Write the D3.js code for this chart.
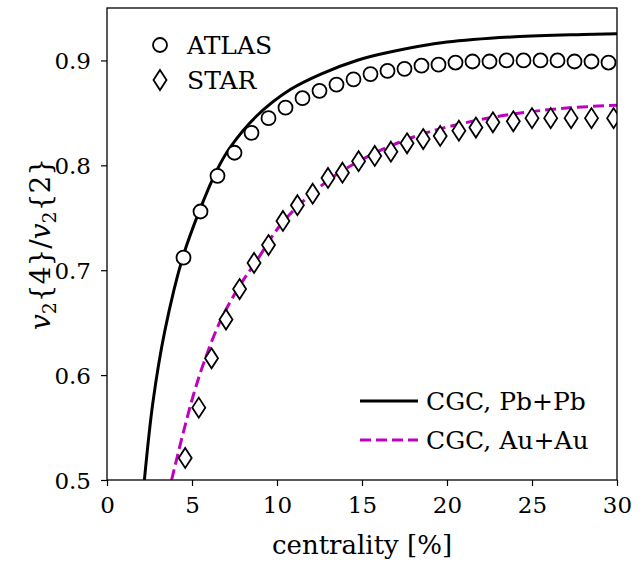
<!DOCTYPE html>
<html><head><meta charset="utf-8">
<script src="https://cdn.jsdelivr.net/npm/d3@7"></script>
<style>body{margin:0;background:#fff}svg{display:block}svg text{font-family:'DejaVu Serif',serif !important;fill:#000}</style>
</head><body>
<svg id="c" width="644" height="562"></svg>
<script>
const xTicks = [0,5,10,15,20,25,30];
const yTicks = [0.5,0.6,0.7,0.8,0.9];
const atlasX = [4.5,5.5,6.5,7.5,8.5,9.5,10.5,11.5,12.5,13.5,14.5,15.5,16.5,17.5,18.5,19.5,20.5,21.5,22.5,23.5,24.5,25.5,26.5,27.5,28.5,29.5];
const atlasY = [0.712,0.756,0.790,0.812,0.831,0.845,0.855,0.864,0.871,0.877,0.882,0.887,0.890,0.892,0.895,0.896,0.898,0.899,0.899,0.900,0.900,0.900,0.900,0.899,0.899,0.898];
const starX = [4.6,5.4,6.15,7.0,7.8,8.65,9.5,10.35,11.2,12.1,13.0,13.85,14.8,15.75,16.7,17.65,18.6,19.6,20.7,21.7,22.7,23.9,25.0,26.1,27.3,28.5,29.8];
const starY = [0.521,0.569,0.616,0.653,0.682,0.707,0.724,0.747,0.762,0.773,0.788,0.793,0.804,0.809,0.813,0.821,0.825,0.828,0.833,0.836,0.841,0.842,0.845,0.845,0.845,0.845,0.845];
const pbX = [2.2,2.7,3.4,4.45,5.47,6.45,7.24,8.8,10.76,12.73,14.69,16.65,20,24,28,30];
const pbY = [0.5,0.574,0.642,0.712,0.758,0.795,0.817,0.847,0.872,0.888,0.900,0.908,0.9175,0.9226,0.9248,0.9255];
const auX = [3.8,4.5,5.1,5.7,6.65,7.8,8.8,10.1,11.35,13.3,15.3,17.2,19.4,23.3,27.2,30];
const auY = [0.5,0.546,0.582,0.612,0.651,0.685,0.709,0.741,0.763,0.789,0.808,0.822,0.834,0.8475,0.8548,0.8573];

const L=107,R=617,T=8,B=480;
const svg=d3.select("#c");
const x=d3.scaleLinear().domain([0,30]).range([L,R]);
const y=d3.scaleLinear().domain([0.5,0.95]).range([B,T]);

svg.append("clipPath").attr("id","clip").append("rect").attr("x",L).attr("y",T).attr("width",R-L).attr("height",B-T);
const g=svg.append("g").attr("clip-path","url(#clip)");

const line=(xs,ys)=>d3.line().x(i=>x(xs[i])).y(i=>y(ys[i])).curve(d3.curveCatmullRom.alpha(0.5))(d3.range(xs.length));
g.append("path").attr("d",line(pbX,pbY)).attr("fill","none").attr("stroke","#000").attr("stroke-width",3);
g.append("path").attr("d",line(auX,auY)).attr("fill","none").attr("stroke","#bf00bf").attr("stroke-width",3).attr("stroke-dasharray","11,5");

g.selectAll("circle.a").data(d3.range(atlasX.length)).join("circle")
 .attr("cx",i=>x(atlasX[i])).attr("cy",i=>y(atlasY[i])).attr("r",7)
 .attr("fill","#fff").attr("stroke","#000").attr("stroke-width",1.8);
const dia=(cx,cy)=>`M${cx},${cy-10}L${cx+6.5},${cy}L${cx},${cy+10}L${cx-6.5},${cy}Z`;
g.selectAll("path.s").data(d3.range(starX.length)).join("path")
 .attr("d",i=>dia(x(starX[i]),y(starY[i])))
 .attr("fill","#fff").attr("stroke","#000").attr("stroke-width",1.8);

// axes
const xa=svg.append("g").attr("transform",`translate(0,${B})`).call(d3.axisBottom(x).tickValues(xTicks).tickSize(6).tickPadding(11).tickFormat(d3.format("d")));
const ya=svg.append("g").attr("transform",`translate(${L},0)`).call(d3.axisLeft(y).tickValues(yTicks).tickSize(6).tickPadding(10).tickFormat(d3.format(".1f")));
[xa,ya].forEach(a=>{a.attr("font-family",null);a.select(".domain").remove();a.selectAll("line").attr("stroke","#000").attr("stroke-width",1.2);a.selectAll("text").attr("font-size",23);});
ya.selectAll("text").attr("dy","0.36em");
svg.append("rect").attr("x",L).attr("y",T).attr("width",R-L).attr("height",B-T).attr("fill","none").attr("stroke","#000").attr("stroke-width",1.3);

// axis labels
svg.append("text").attr("x",(L+R)/2).attr("y",554).attr("text-anchor","middle").attr("font-size",26).text("centrality [%]");
const yl=svg.append("text").attr("transform",`translate(50,${(T+B)/2}) rotate(-90)`).attr("text-anchor","middle").attr("font-size",28);
yl.append("tspan").attr("font-style","italic").text("v");
yl.append("tspan").attr("font-size",19).attr("dy",6).text("2");
yl.append("tspan").attr("dy",-6).text("{4}/");
yl.append("tspan").attr("font-style","italic").text("v");
yl.append("tspan").attr("font-size",19).attr("dy",6).text("2");
yl.append("tspan").attr("dy",-6).text("{2}");

// legend markers
svg.append("circle").attr("cx",160).attr("cy",45).attr("r",7).attr("fill","#fff").attr("stroke","#000").attr("stroke-width",1.8);
svg.append("path").attr("d",dia(160,80)).attr("fill","#fff").attr("stroke","#000").attr("stroke-width",1.8);
svg.append("text").attr("x",187).attr("y",54).attr("font-size",25).text("ATLAS");
svg.append("text").attr("x",187).attr("y",89).attr("font-size",25).text("STAR");
svg.append("line").attr("x1",360).attr("x2",418).attr("y1",401).attr("y2",401).attr("stroke","#000").attr("stroke-width",3);
svg.append("line").attr("x1",360).attr("x2",418).attr("y1",440).attr("y2",440).attr("stroke","#bf00bf").attr("stroke-width",3).attr("stroke-dasharray","11,5");
svg.append("text").attr("x",426).attr("y",410).attr("font-size",25).text("CGC, Pb+Pb");
svg.append("text").attr("x",426).attr("y",449).attr("font-size",25).text("CGC, Au+Au");
</script>
</body></html>
